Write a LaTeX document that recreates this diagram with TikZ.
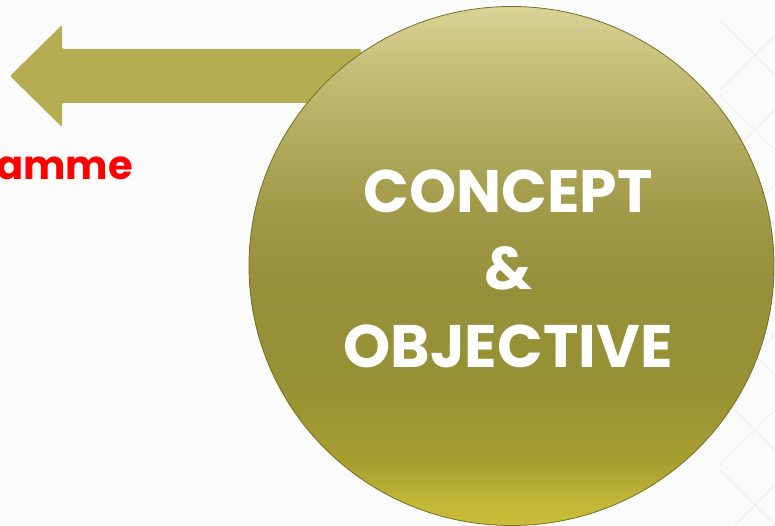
\documentclass[tikz,border=0pt]{standalone}
\usepackage{fontspec}
\setmainfont{Poppins}
\newfontfamily\popb{Poppins}[UprightFont=* Bold]
\definecolor{bgc}{HTML}{FBFBFB}
\definecolor{arrowc}{HTML}{B5AD52}
\definecolor{circedge}{HTML}{747121}
\definecolor{patc}{HTML}{EEEEEE}
\definecolor{gA}{HTML}{C9BD38}
\definecolor{gB}{HTML}{C3B838}
\definecolor{gC}{HTML}{A89F30}
\definecolor{gD}{HTML}{989234}
\definecolor{gE}{HTML}{958F3A}
\definecolor{gF}{HTML}{A19B4A}
\definecolor{gG}{HTML}{BCB46A}
\definecolor{gH}{HTML}{D8D296}
\pgfdeclareverticalshading{circshade}{100bp}{%
  color(0bp)=(gA);
  color(25bp)=(gA);
  color(27bp)=(gB);
  color(31bp)=(gC);
  color(38bp)=(gD);
  color(47bp)=(gE);
  color(56bp)=(gF);
  color(66bp)=(gG);
  color(75bp)=(gH);
  color(100bp)=(gH)}
\begin{document}
\begin{tikzpicture}[x=1pt,y=-1pt,
  circtext/.style={font=\popb\fontsize{60}{60}\selectfont, text=white, anchor=base, inner sep=0pt},
  redtext/.style={font=\popb\fontsize{40}{40}\selectfont, text=red, anchor=base east, inner sep=0pt}]
\useasboundingbox (0,0) rectangle (775,526);
\fill[bgc] (0,0) rectangle (775,526);
\begin{scope}
\clip (0,0) rectangle (775,526);
% faint pattern on the right
\foreach \yy in {20,95,...,600} {
  \draw[patc, line width=1pt] (720,\yy) -- (790,\yy+70);
  \draw[patc, line width=1pt] (720,\yy+70) -- (790,\yy);
}
% arrow
\fill[arrowc, rounded corners=1.5pt] (361,49) -- (62,49) -- (62,25) -- (10,76) -- (62,127) -- (62,103) -- (361,103) -- cycle;
% circle
\coordinate (cc) at (511.5,266);
\shade[shading=circshade, draw=circedge, line width=0.8pt] (cc) ellipse [x radius=262.5, y radius=259.5];
\node[circtext] (c1) at (508,213) {CONCEPT};
\node[circtext] (c2) at (508,289) {\&};
\node[circtext] (c3) at (508,367) {OBJECTIVE};
\node[redtext] (prog) at (133,180) {Programme};
\end{scope}
\end{tikzpicture}
\end{document}
